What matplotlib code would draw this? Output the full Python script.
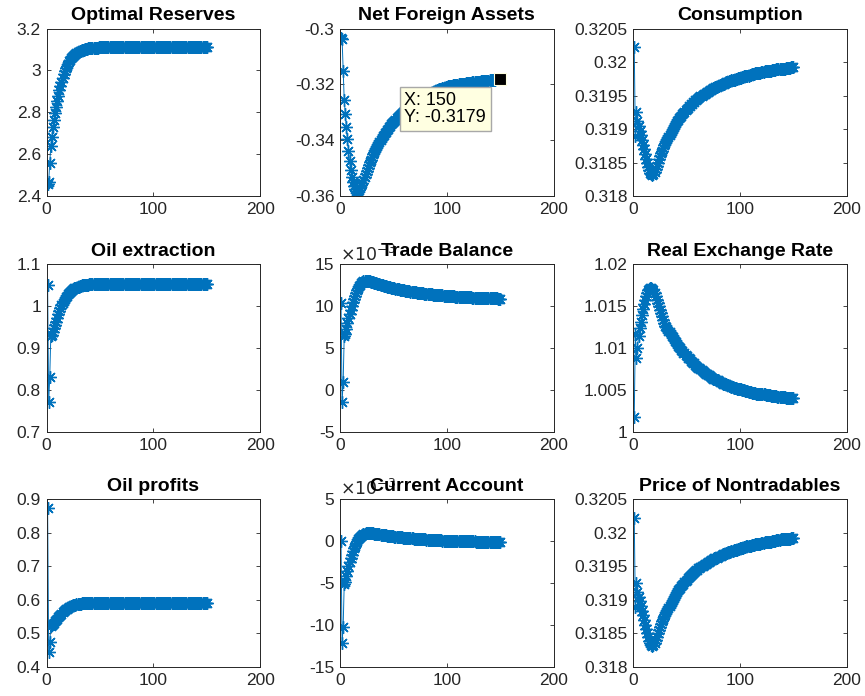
import numpy as np
import matplotlib
matplotlib.use('Agg')
import matplotlib.pyplot as plt

plt.rcParams['font.family'] = ['Liberation Sans', 'DejaVu Sans']
plt.rcParams['axes.unicode_minus'] = False

# impulse responses, periods 1..150
reserves = [
    2.46, 2.47, 2.56, 2.64, 2.685, 2.73, 2.765, 2.795, 2.825, 2.855,
    2.88, 2.905, 2.927, 2.947, 2.965, 2.982, 2.997, 3.01, 3.022, 3.033,
    3.043, 3.051, 3.058, 3.065, 3.071, 3.076, 3.08, 3.084, 3.087, 3.09,
    3.093, 3.095, 3.097, 3.099, 3.1, 3.102, 3.103, 3.104, 3.105, 3.106,
    3.106, 3.107, 3.107, 3.108, 3.108, 3.109, 3.109, 3.109, 3.11, 3.11,
    3.11, 3.11, 3.11, 3.111, 3.111, 3.111, 3.111, 3.111, 3.111, 3.111,
    3.111, 3.111, 3.111, 3.111, 3.112, 3.112, 3.112, 3.112, 3.112, 3.112,
    3.112, 3.112, 3.112, 3.112, 3.112, 3.112, 3.112, 3.112, 3.112, 3.112,
    3.112, 3.112, 3.112, 3.112, 3.112, 3.112, 3.112, 3.112, 3.112, 3.112,
    3.112, 3.112, 3.112, 3.112, 3.112, 3.112, 3.112, 3.112, 3.112, 3.112,
    3.112, 3.112, 3.112, 3.112, 3.112, 3.112, 3.112, 3.112, 3.112, 3.112,
    3.112, 3.112, 3.112, 3.112, 3.112, 3.112, 3.112, 3.112, 3.112, 3.112,
    3.112, 3.112, 3.112, 3.112, 3.112, 3.112, 3.112, 3.112, 3.112, 3.112,
    3.112, 3.112, 3.112, 3.112, 3.112, 3.112, 3.112, 3.112, 3.112, 3.112,
    3.112, 3.112, 3.112, 3.112, 3.112, 3.112, 3.112, 3.112, 3.112, 3.112,
]

nfa = [
    -0.3035, -0.3037, -0.3151, -0.3256, -0.3306, -0.3352, -0.3396, -0.3438, -0.3474, -0.3505,
    -0.3530, -0.3550, -0.3565, -0.3575, -0.3581, -0.3583, -0.3581, -0.3576, -0.3569, -0.3561,
    -0.3552, -0.3542, -0.3532, -0.3521, -0.3510, -0.3500, -0.3489, -0.3479, -0.3469, -0.3459,
    -0.3450, -0.3442, -0.3434, -0.3426, -0.3419, -0.3412, -0.3405, -0.3398, -0.3392, -0.3386,
    -0.3380, -0.3374, -0.3369, -0.3363, -0.3358, -0.3353, -0.3348, -0.3343, -0.3339, -0.3334,
    -0.3330, -0.3326, -0.3321, -0.3317, -0.3313, -0.3309, -0.3306, -0.3302, -0.3299, -0.3295,
    -0.3292, -0.3289, -0.3285, -0.3282, -0.3279, -0.3276, -0.3273, -0.3270, -0.3268, -0.3265,
    -0.3262, -0.3260, -0.3257, -0.3255, -0.3252, -0.3250, -0.3248, -0.3245, -0.3243, -0.3241,
    -0.3239, -0.3237, -0.3235, -0.3233, -0.3231, -0.3229, -0.3227, -0.3226, -0.3224, -0.3222,
    -0.3221, -0.3219, -0.3218, -0.3216, -0.3215, -0.3213, -0.3212, -0.3211, -0.3209, -0.3208,
    -0.3207, -0.3206, -0.3206, -0.3205, -0.3204, -0.3203, -0.3203, -0.3202, -0.3201, -0.3201,
    -0.3200, -0.3199, -0.3199, -0.3198, -0.3198, -0.3197, -0.3197, -0.3196, -0.3196, -0.3195,
    -0.3195, -0.3194, -0.3194, -0.3193, -0.3193, -0.3192, -0.3192, -0.3191, -0.3191, -0.3190,
    -0.3190, -0.3189, -0.3189, -0.3188, -0.3188, -0.3187, -0.3187, -0.3186, -0.3186, -0.3185,
    -0.3185, -0.3184, -0.3184, -0.3183, -0.3183, -0.3182, -0.3181, -0.3181, -0.3180, -0.3179,
]

consumption = [
    0.32022, 0.31890, 0.31925, 0.31912, 0.31905, 0.31898, 0.31891, 0.31884, 0.31877, 0.31870,
    0.31863, 0.31856, 0.31850, 0.31844, 0.31839, 0.31835, 0.31833, 0.31832, 0.31833, 0.31836,
    0.31840, 0.31845, 0.31850, 0.31855, 0.31860, 0.31864, 0.31868, 0.31872, 0.31876, 0.31879,
    0.31882, 0.31885, 0.31888, 0.31891, 0.31894, 0.31897, 0.31900, 0.31903, 0.31906, 0.31909,
    0.31912, 0.31914, 0.31916, 0.31918, 0.31920, 0.31922, 0.31924, 0.31926, 0.31928, 0.31930,
    0.31932, 0.31934, 0.31935, 0.31937, 0.31938, 0.31940, 0.31941, 0.31943, 0.31944, 0.31945,
    0.31947, 0.31948, 0.31949, 0.31950, 0.31951, 0.31952, 0.31953, 0.31954, 0.31955, 0.31956,
    0.31957, 0.31958, 0.31959, 0.31960, 0.31961, 0.31962, 0.31963, 0.31963, 0.31964, 0.31965,
    0.31966, 0.31966, 0.31967, 0.31968, 0.31968, 0.31969, 0.31970, 0.31970, 0.31971, 0.31972,
    0.31972, 0.31973, 0.31973, 0.31974, 0.31974, 0.31975, 0.31975, 0.31976, 0.31976, 0.31977,
    0.31977, 0.31978, 0.31978, 0.31979, 0.31979, 0.31980, 0.31980, 0.31980, 0.31981, 0.31981,
    0.31982, 0.31982, 0.31982, 0.31983, 0.31983, 0.31983, 0.31984, 0.31984, 0.31984, 0.31985,
    0.31985, 0.31985, 0.31986, 0.31986, 0.31986, 0.31987, 0.31987, 0.31987, 0.31987, 0.31988,
    0.31988, 0.31988, 0.31988, 0.31989, 0.31989, 0.31989, 0.31989, 0.31990, 0.31990, 0.31990,
    0.31990, 0.31990, 0.31991, 0.31991, 0.31991, 0.31991, 0.31991, 0.31992, 0.31992, 0.31992,
]

oil_extraction = [
    1.052, 0.772, 0.831, 0.930, 0.933, 0.940, 0.948, 0.956, 0.964, 0.972,
    0.983, 0.990, 0.997, 1.003, 1.009, 1.014, 1.018, 1.022, 1.026, 1.030,
    1.033, 1.035, 1.037, 1.039, 1.041, 1.043, 1.044, 1.045, 1.046, 1.047,
    1.048, 1.049, 1.050, 1.050, 1.051, 1.051, 1.052, 1.052, 1.052, 1.053,
    1.053, 1.053, 1.053, 1.053, 1.053, 1.053, 1.053, 1.053, 1.053, 1.053,
    1.053, 1.053, 1.053, 1.053, 1.053, 1.053, 1.053, 1.053, 1.053, 1.053,
    1.053, 1.053, 1.053, 1.053, 1.053, 1.053, 1.053, 1.053, 1.053, 1.053,
    1.053, 1.053, 1.053, 1.053, 1.053, 1.053, 1.053, 1.053, 1.053, 1.053,
    1.053, 1.053, 1.053, 1.053, 1.053, 1.053, 1.053, 1.053, 1.053, 1.053,
    1.053, 1.053, 1.053, 1.053, 1.053, 1.053, 1.053, 1.053, 1.053, 1.053,
    1.053, 1.053, 1.053, 1.053, 1.053, 1.053, 1.053, 1.053, 1.053, 1.053,
    1.053, 1.053, 1.053, 1.053, 1.053, 1.053, 1.053, 1.053, 1.053, 1.053,
    1.053, 1.053, 1.053, 1.053, 1.053, 1.053, 1.053, 1.053, 1.053, 1.053,
    1.053, 1.053, 1.053, 1.053, 1.053, 1.053, 1.053, 1.053, 1.053, 1.053,
    1.053, 1.053, 1.053, 1.053, 1.053, 1.053, 1.053, 1.053, 1.053, 1.053,
]

# trade balance, in units of 1e-3
trade_balance = [
    10.4, -1.4, 0.96, 6.5, 6.7, 7.3, 8.0, 8.6, 9.1, 9.6,
    10.1, 10.5, 10.9, 11.3, 11.6, 11.9, 12.2, 12.4, 12.6, 12.75,
    12.9, 13.0, 13.05, 13.08, 13.08, 13.06, 13.03, 13.0, 12.96, 12.92,
    12.88, 12.84, 12.79, 12.75, 12.71, 12.67, 12.63, 12.59, 12.55, 12.51,
    12.47, 12.43, 12.39, 12.36, 12.33, 12.30, 12.27, 12.24, 12.21, 12.18,
    12.15, 12.12, 12.09, 12.06, 12.03, 12.00, 11.98, 11.95, 11.93, 11.90,
    11.88, 11.85, 11.83, 11.81, 11.79, 11.77, 11.75, 11.73, 11.71, 11.69,
    11.67, 11.65, 11.63, 11.61, 11.60, 11.58, 11.56, 11.55, 11.53, 11.52,
    11.50, 11.49, 11.47, 11.46, 11.44, 11.43, 11.42, 11.40, 11.39, 11.38,
    11.37, 11.35, 11.34, 11.33, 11.32, 11.31, 11.30, 11.29, 11.28, 11.27,
    11.25, 11.24, 11.23, 11.22, 11.21, 11.20, 11.19, 11.18, 11.17, 11.16,
    11.16, 11.15, 11.14, 11.13, 11.12, 11.12, 11.11, 11.10, 11.09, 11.09,
    11.08, 11.07, 11.07, 11.06, 11.05, 11.05, 11.04, 11.04, 11.03, 11.02,
    11.02, 11.01, 11.01, 11.00, 11.00, 10.99, 10.99, 10.98, 10.98, 10.97,
    10.97, 10.97, 10.96, 10.96, 10.95, 10.95, 10.95, 10.94, 10.94, 10.94,
]

real_exchange_rate = [
    1.0018, 1.0117, 1.0089, 1.0101, 1.0115, 1.0124, 1.0132, 1.0140, 1.0147, 1.0153,
    1.0158, 1.0162, 1.0166, 1.0169, 1.0171, 1.0172, 1.0172, 1.0171, 1.0169, 1.0166,
    1.0162, 1.0158, 1.0154, 1.0150, 1.0146, 1.0142, 1.0138, 1.0134, 1.0130, 1.0127,
    1.0125, 1.0123, 1.0121, 1.0119, 1.0117, 1.0115, 1.0113, 1.0111, 1.0109, 1.0107,
    1.0105, 1.0103, 1.0102, 1.0100, 1.0098, 1.0097, 1.0095, 1.0094, 1.0092, 1.0091,
    1.0089, 1.0088, 1.0087, 1.0085, 1.0084, 1.0083, 1.0082, 1.0080, 1.0079, 1.0078,
    1.0077, 1.0076, 1.0075, 1.0074, 1.0073, 1.0072, 1.0071, 1.0070, 1.0069, 1.0068,
    1.0068, 1.0067, 1.0066, 1.0065, 1.0064, 1.0064, 1.0063, 1.0062, 1.0062, 1.0061,
    1.0060, 1.0060, 1.0059, 1.0058, 1.0058, 1.0057, 1.0057, 1.0056, 1.0056, 1.0055,
    1.0055, 1.0054, 1.0054, 1.0053, 1.0053, 1.0053, 1.0052, 1.0052, 1.0051, 1.0051,
    1.0051, 1.0050, 1.0050, 1.0050, 1.0049, 1.0049, 1.0049, 1.0048, 1.0048, 1.0048,
    1.0047, 1.0047, 1.0047, 1.0047, 1.0046, 1.0046, 1.0046, 1.0046, 1.0045, 1.0045,
    1.0045, 1.0045, 1.0045, 1.0044, 1.0044, 1.0044, 1.0044, 1.0044, 1.0043, 1.0043,
    1.0043, 1.0043, 1.0043, 1.0043, 1.0042, 1.0042, 1.0042, 1.0042, 1.0042, 1.0042,
    1.0042, 1.0042, 1.0041, 1.0041, 1.0041, 1.0041, 1.0041, 1.0041, 1.0041, 1.0041,
]

oil_profits = [
    0.874, 0.446, 0.475, 0.522, 0.524, 0.528, 0.532, 0.536, 0.540, 0.544,
    0.548, 0.552, 0.556, 0.559, 0.563, 0.566, 0.569, 0.572, 0.574, 0.576,
    0.578, 0.580, 0.582, 0.583, 0.584, 0.585, 0.586, 0.587, 0.588, 0.588,
    0.589, 0.589, 0.590, 0.590, 0.590, 0.590, 0.591, 0.591, 0.591, 0.591,
    0.591, 0.591, 0.591, 0.591, 0.591, 0.591, 0.591, 0.591, 0.591, 0.591,
    0.591, 0.591, 0.591, 0.591, 0.591, 0.591, 0.591, 0.591, 0.591, 0.591,
    0.591, 0.591, 0.591, 0.591, 0.591, 0.591, 0.591, 0.591, 0.591, 0.591,
    0.591, 0.591, 0.591, 0.591, 0.591, 0.591, 0.591, 0.591, 0.591, 0.591,
    0.591, 0.591, 0.591, 0.591, 0.591, 0.591, 0.591, 0.591, 0.591, 0.591,
    0.591, 0.591, 0.591, 0.591, 0.591, 0.591, 0.591, 0.591, 0.591, 0.591,
    0.591, 0.591, 0.591, 0.591, 0.591, 0.591, 0.591, 0.591, 0.591, 0.591,
    0.591, 0.591, 0.591, 0.591, 0.591, 0.591, 0.591, 0.591, 0.591, 0.591,
    0.591, 0.591, 0.591, 0.591, 0.591, 0.591, 0.591, 0.591, 0.591, 0.591,
    0.591, 0.591, 0.591, 0.591, 0.591, 0.591, 0.591, 0.591, 0.591, 0.591,
    0.591, 0.591, 0.591, 0.591, 0.591, 0.591, 0.591, 0.591, 0.591, 0.591,
]

# current account, in units of 1e-3
current_account = [
    0.0, -12.2, -10.2, -5.1, -4.9, -4.2, -3.6, -3.0, -2.5, -2.0,
    -1.6, -1.2, -0.85, -0.55, -0.25, 0.0, 0.2, 0.38, 0.53, 0.65,
    0.75, 0.83, 0.89, 0.93, 0.96, 0.98, 0.98, 0.98, 0.97, 0.95,
    0.93, 0.91, 0.89, 0.87, 0.85, 0.83, 0.81, 0.79, 0.77, 0.75,
    0.73, 0.71, 0.69, 0.67, 0.65, 0.63, 0.61, 0.59, 0.58, 0.56,
    0.54, 0.53, 0.51, 0.50, 0.48, 0.47, 0.45, 0.44, 0.43, 0.41,
    0.40, 0.39, 0.38, 0.36, 0.35, 0.34, 0.33, 0.32, 0.31, 0.30,
    0.29, 0.28, 0.27, 0.26, 0.25, 0.24, 0.23, 0.22, 0.21, 0.20,
    0.19, 0.18, 0.18, 0.17, 0.16, 0.15, 0.14, 0.14, 0.13, 0.12,
    0.11, 0.11, 0.10, 0.09, 0.09, 0.08, 0.07, 0.07, 0.06, 0.06,
    0.05, 0.05, 0.04, 0.04, 0.03, 0.03, 0.02, 0.02, 0.01, 0.01,
    0.01, 0.00, 0.00, 0.00, -0.01, -0.01, -0.01, -0.02, -0.02, -0.02,
    -0.02, -0.03, -0.03, -0.03, -0.03, -0.03, -0.04, -0.04, -0.04, -0.04,
    -0.04, -0.04, -0.04, -0.05, -0.05, -0.05, -0.05, -0.05, -0.05, -0.05,
    -0.05, -0.05, -0.05, -0.05, -0.05, -0.05, -0.05, -0.05, -0.05, -0.05,
]

# price of nontradables moves one-for-one with consumption here
price_nontradables = list(consumption)

titles = ['Optimal Reserves', 'Net Foreign Assets', 'Consumption',
          'Oil extraction', 'Trade Balance', 'Real Exchange Rate',
          'Oil profits', 'Current Account', 'Price of Nontradables']
series = [reserves, nfa, consumption,
          oil_extraction, trade_balance, real_exchange_rate,
          oil_profits, current_account, price_nontradables]
yticks = [
    [2.4, 2.6, 2.8, 3.0, 3.2],
    [-0.36, -0.34, -0.32, -0.30],
    [0.318, 0.3185, 0.319, 0.3195, 0.32, 0.3205],
    [0.7, 0.8, 0.9, 1.0, 1.1],
    [-5, 0, 5, 10, 15],
    [1.0, 1.005, 1.01, 1.015, 1.02],
    [0.4, 0.5, 0.6, 0.7, 0.8, 0.9],
    [-15, -10, -5, 0, 5],
    [0.318, 0.3185, 0.319, 0.3195, 0.32, 0.3205],
]
scaled = [False, False, False, False, True, False, False, True, False]

blue = '#0072BD'
dark = '#262626'

fig = plt.figure(figsize=(8.65, 6.96), dpi=100)
lefts = [0.0538, 0.393, 0.732]
bottoms = [0.718, 0.379, 0.0417]
w, h = 0.247, 0.241

axes = []
for i in range(9):
    r, c = divmod(i, 3)
    ax = fig.add_axes([lefts[c], bottoms[r], w, h])
    y = series[i]
    x = np.arange(1, len(y) + 1)
    ax.plot(x, y, color=blue, lw=0.7, marker=(8, 2, 0), ms=9, mew=1.0)
    ax.set_xlim(0, 200)
    ax.set_xticks([0, 100, 200])
    ax.set_ylim(yticks[i][0], yticks[i][-1])
    ax.set_yticks(yticks[i])
    ax.set_yticklabels(['%g' % v for v in yticks[i]])
    ax.tick_params(direction='in', top=True, right=True, length=3,
                   width=0.6, labelsize=12.5, colors=dark, pad=4)
    for s in ax.spines.values():
        s.set_color(dark)
        s.set_linewidth(0.7)
    if scaled[i]:
        ax.text(0.0, 1.005, r'$\times10^{-3}$', transform=ax.transAxes,
                fontsize=12.5, color=dark, ha='left', va='bottom')
    ax.set_title(titles[i], fontsize=14, fontweight='bold', pad=6)
    axes.append(ax)

# data tip on the last point of net foreign assets
ax = axes[1]
xl = len(nfa)
ax.plot(xl, nfa[-1], 's', color='black', ms=8, mec='#FFFFE0', mew=0.8)
ax.annotate('X: %d\nY: %.4f' % (xl, nfa[-1]), xy=(xl, nfa[-1]),
            xytext=(-14, -13), textcoords='offset pixels', ha='right', va='top',
            multialignment='left', fontsize=13, linespacing=1.05, color='black',
            bbox=dict(boxstyle='square,pad=0.25', fc='#FFFFE1', ec='#A8A8A8', lw=1))

plt.savefig('out.png', dpi=100)
